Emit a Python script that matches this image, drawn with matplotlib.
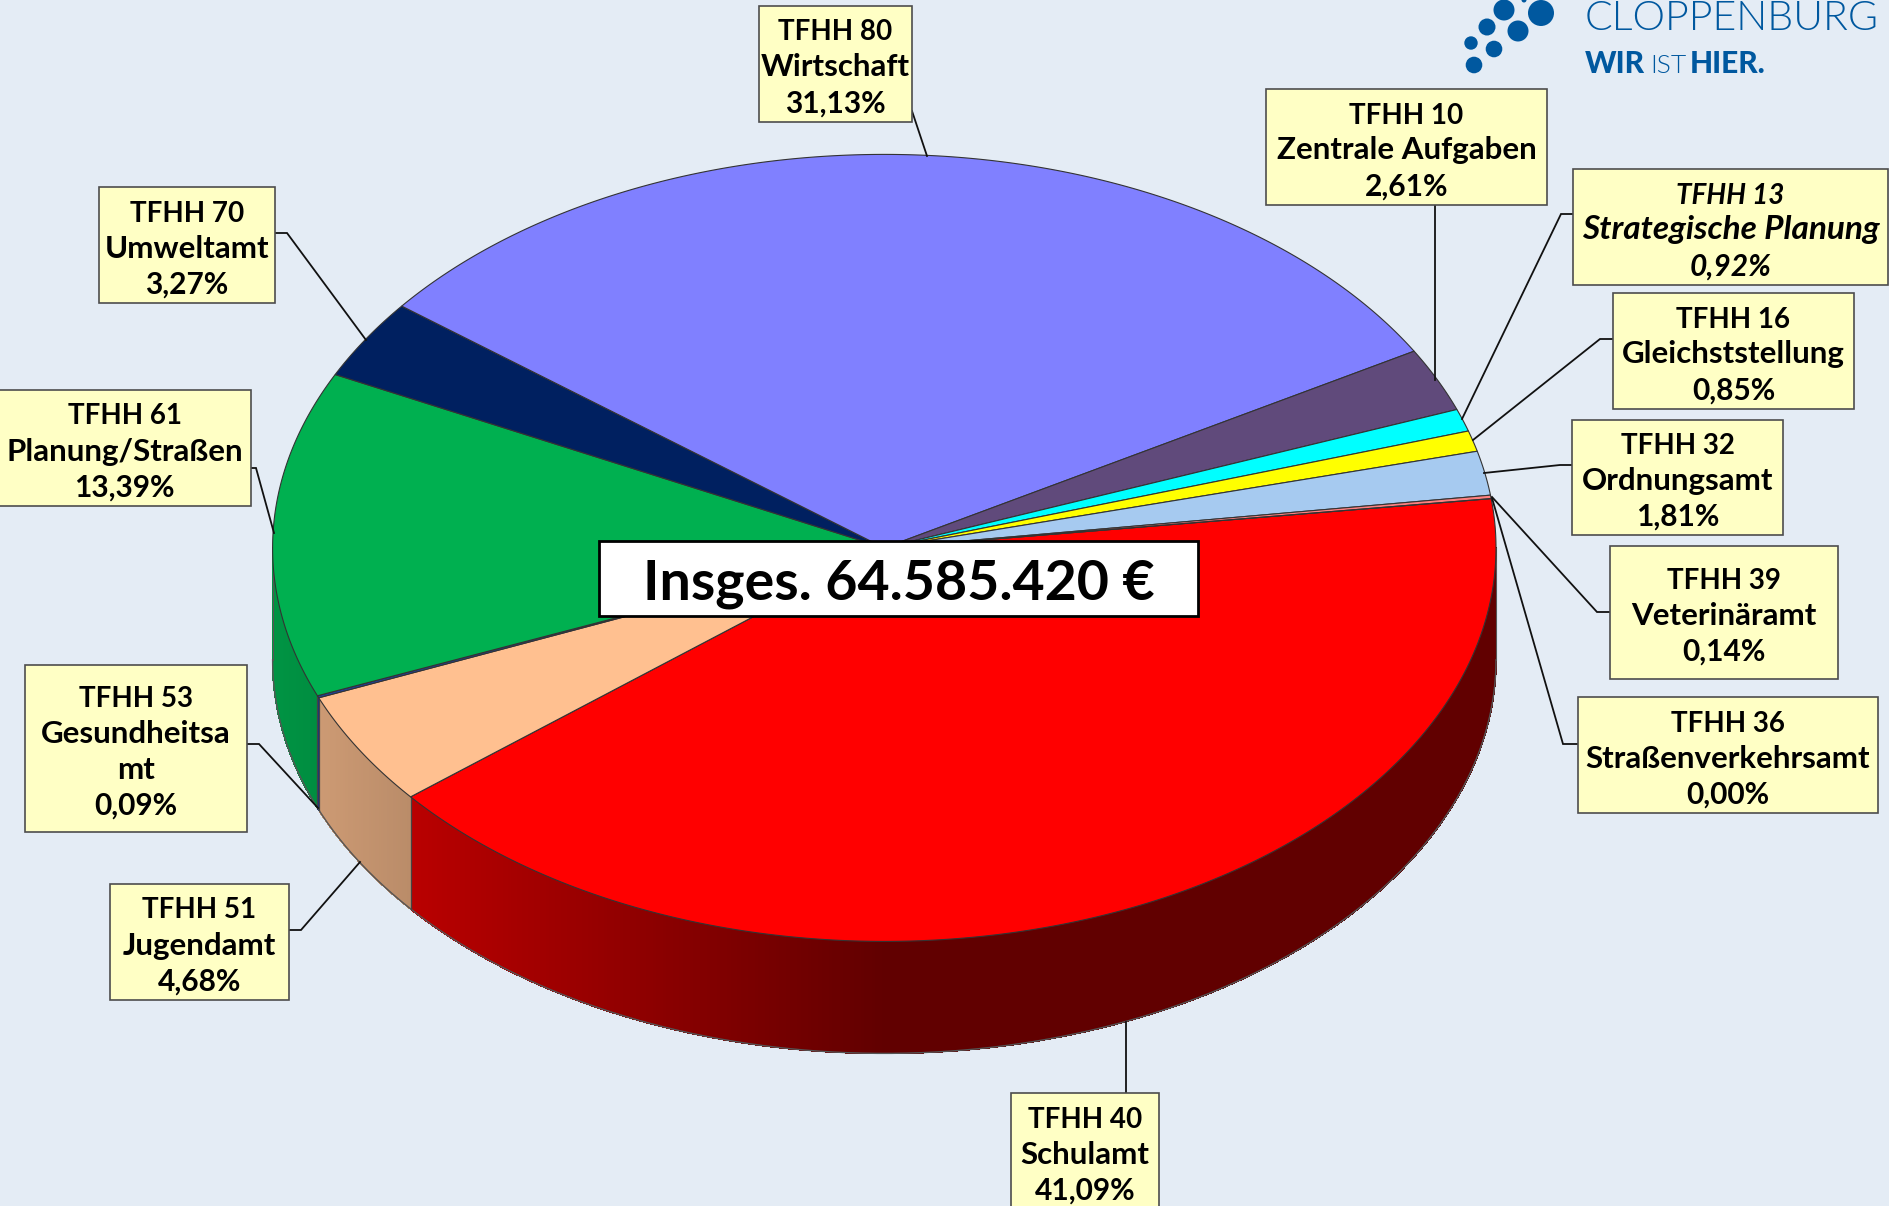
#!/usr/bin/env python3
"""Budget share per department as a tilted 3D pie with callout boxes."""

import matplotlib

matplotlib.use("Agg")
import matplotlib.pyplot as plt
import numpy as np
from matplotlib.collections import PolyCollection
from matplotlib.colors import to_rgb
from matplotlib.patches import Circle, Polygon, Rectangle

# values, clockwise from the right-hand rim
codes = ["TFHH 40", "TFHH 51", "TFHH 53", "TFHH 61", "TFHH 70", "TFHH 80",
         "TFHH 10", "TFHH 13", "TFHH 16", "TFHH 32", "TFHH 39", "TFHH 36"]
names = ["Schulamt", "Jugendamt", "Gesundheitsa\nmt", "Planung/Straßen", "Umweltamt", "Wirtschaft",
         "Zentrale Aufgaben", "Strategische Planung", "Gleichststellung", "Ordnungsamt",
         "Veterinäramt", "Straßenverkehrsamt"]
shares = [41.09, 4.68, 0.09, 13.39, 3.27, 31.13, 2.61, 0.92, 0.85, 1.81, 0.14, 0.00]
colors = ["#ff0000", "#ffc090", "#1f3f9f", "#00b050", "#002060", "#8080ff",
          "#604a7b", "#00ffff", "#ffff00", "#a6caf0", "#ff8080", "#c00000"]
total_label = "Insges. 64.585.420 €"

# callout layout in picture pixels: left, top, right, bottom
boxes = [(1011, 1093, 1159, 1209), (110, 884, 289, 1000), (25, 665, 247, 832), (-2, 390, 251, 506),
         (99, 187, 275, 303), (759, 6, 912, 122), (1266, 89, 1547, 205), (1573, 169, 1888, 285),
         (1613, 293, 1854, 409), (1572, 420, 1783, 535), (1610, 546, 1838, 679), (1578, 697, 1878, 813)]
leaders = [[(1126, 1093), (1126, 1022)],
           [(289, 930), (301, 930), (360, 862)],
           [(247, 744), (259, 744), (318, 808)],
           [(251, 468), (256, 468), (274, 533)],
           [(275, 233), (287, 233), (366, 340)],
           [(912, 111), (927, 156)],
           [(1435, 205), (1435, 380)],
           [(1573, 214), (1561, 214), (1462, 419)],
           [(1613, 339), (1600, 339), (1473, 440)],
           [(1572, 465), (1560, 465), (1484, 473)],
           [(1610, 612), (1597, 612), (1492, 497)],
           [(1578, 744), (1563, 744), (1492, 498)]]
logo_dots = [(1471, 43, 6.7), (1474, 65, 8.3), (1494, 49, 8.3), (1487, 27, 8.5),
             (1518, 31, 10.5), (1504, 10, 10.5), (1541, 13, 13), (1524, 0, 2.5)]

CX, CY, RX, RY, DEPTH = 884.3, 547.9, 611.7, 393.5, 112
START = 7.2
BG = "#e4ecf5"
BLUE = "#00589f"
FONT = "Lato"
LINE_PITCH = 36


def rim(t):
    rad = np.radians(t)
    return CX + RX * np.cos(rad), CY - RY * np.sin(rad)


def wall_shade(x):
    # the side of the pie darkens from the left edge to the middle
    return np.interp(x, [272, 420, 884, 1500], [0.84, 0.72, 0.38, 0.38])


def draw_pie(ax):
    pct = np.array(shares) / sum(shares) * 360
    ends = START - np.cumsum(pct)
    starts = ends + pct

    # side wall, in thin strips so it can carry the gradient
    strips, strip_colors = [], []
    for hi, lo, col in zip(starts, ends, colors):
        hi, lo = min(hi, 0), max(lo, -180)
        if hi <= lo:
            continue
        ts = np.linspace(hi, lo, max(int((hi - lo) * 3), 2))
        for t0, t1 in zip(ts[:-1], ts[1:]):
            x0, y0 = rim(t0)
            x1, y1 = rim(t1)
            strips.append([(x0, y0), (x1, y1), (x1, y1 + DEPTH), (x0, y0 + DEPTH)])
            strip_colors.append(tuple(np.array(to_rgb(col)) * wall_shade((x0 + x1) / 2)))
    ax.add_collection(PolyCollection(strips, facecolors=strip_colors, edgecolors=strip_colors,
                                     linewidths=0.6, antialiaseds=False, zorder=2))

    ts = np.linspace(0, -180, 400)
    xs, ys = rim(ts)
    ax.plot(xs, ys + DEPTH, color="#555555", lw=1.0, zorder=3)
    ax.plot([xs[0], xs[0]], [ys[0], ys[0] + DEPTH], color="#555555", lw=0.8, zorder=3)
    ax.plot([xs[-1], xs[-1]], [ys[-1], ys[-1] + DEPTH], color="#555555", lw=0.8, zorder=3)
    for hi in starts:
        if -180 < hi < 0:
            x0, y0 = rim(hi)
            ax.plot([x0, x0], [y0, y0 + DEPTH], color="#444444", lw=0.9, zorder=3)

    # top face
    for hi, lo, col in zip(starts, ends, colors):
        ts = np.linspace(hi, lo, max(int((hi - lo) * 3), 2))
        xs, ys = rim(ts)
        pts = np.column_stack([np.r_[CX, xs], np.r_[CY, ys]])
        ax.add_patch(Polygon(pts, closed=True, facecolor=col, edgecolor="#333333", lw=0.8, zorder=4))


def draw_callouts(ax):
    for code, name, share, box, line in zip(codes, names, shares, boxes, leaders):
        xs, ys = zip(*line)
        ax.plot(xs, ys, color="#111111", lw=1.3, zorder=5, solid_joinstyle="miter")
        left, top, right, bottom = box
        ax.add_patch(Rectangle((left, top), right - left, bottom - top, facecolor="#ffffc5",
                               edgecolor="#4d4d4d", lw=1.2, zorder=6))

        # Lato's capitals run wide and its lower case narrow, so each row gets its own size
        italic = code == "TFHH 13"
        rows = [(code, 20)]
        rows += [(part, 24 if italic else 22.5) for part in name.split("\n")]
        rows += [(f"{share:.2f}%".replace(".", ","), 21.5)]
        first = (top + bottom) / 2 + 12.5 - (len(rows) - 1) / 2 * LINE_PITCH
        for i, (label, size) in enumerate(rows):
            ax.text((left + right) / 2, first + i * LINE_PITCH, label, ha="center", va="baseline", fontsize=size,
                    fontweight="bold", family=FONT, color="black", zorder=7, clip_on=True,
                    style="italic" if italic else "normal")


def draw_logo(ax):
    for x, y, r in logo_dots:
        ax.add_patch(Circle((x, y), r, facecolor=BLUE, edgecolor="none", zorder=2))
    ax.text(1585, 30, "CLOPPENBURG", fontsize=29.6, family=FONT, fontweight=300, color=BLUE, va="baseline", zorder=2)
    ax.text(1585, 73, "WIR", fontsize=21.5, family=FONT, fontweight=900, color=BLUE, va="baseline")
    ax.text(1650, 73, "IST", fontsize=19, family=FONT, fontweight=300, color=BLUE, va="baseline")
    ax.text(1690, 73, "HIER.", fontsize=21.5, family=FONT, fontweight=900, color=BLUE, va="baseline")


def main():
    fig = plt.figure(figsize=(18.9, 12.06), dpi=100, facecolor=BG)
    ax = fig.add_axes([0, 0, 1, 1])
    ax.set_xlim(0, 1890)
    ax.set_ylim(1206, 0)
    ax.axis("off")

    draw_logo(ax)
    draw_pie(ax)
    draw_callouts(ax)

    ax.add_patch(Rectangle((599, 541), 599, 75, facecolor="white", edgecolor="black", lw=2, zorder=8))
    ax.text(899, 584, total_label, ha="center", va="center", fontsize=40, fontweight="bold", family=FONT, zorder=9)

    fig.savefig("out.png", dpi=100, facecolor=BG)
    plt.close(fig)


if __name__ == "__main__":
    main()
